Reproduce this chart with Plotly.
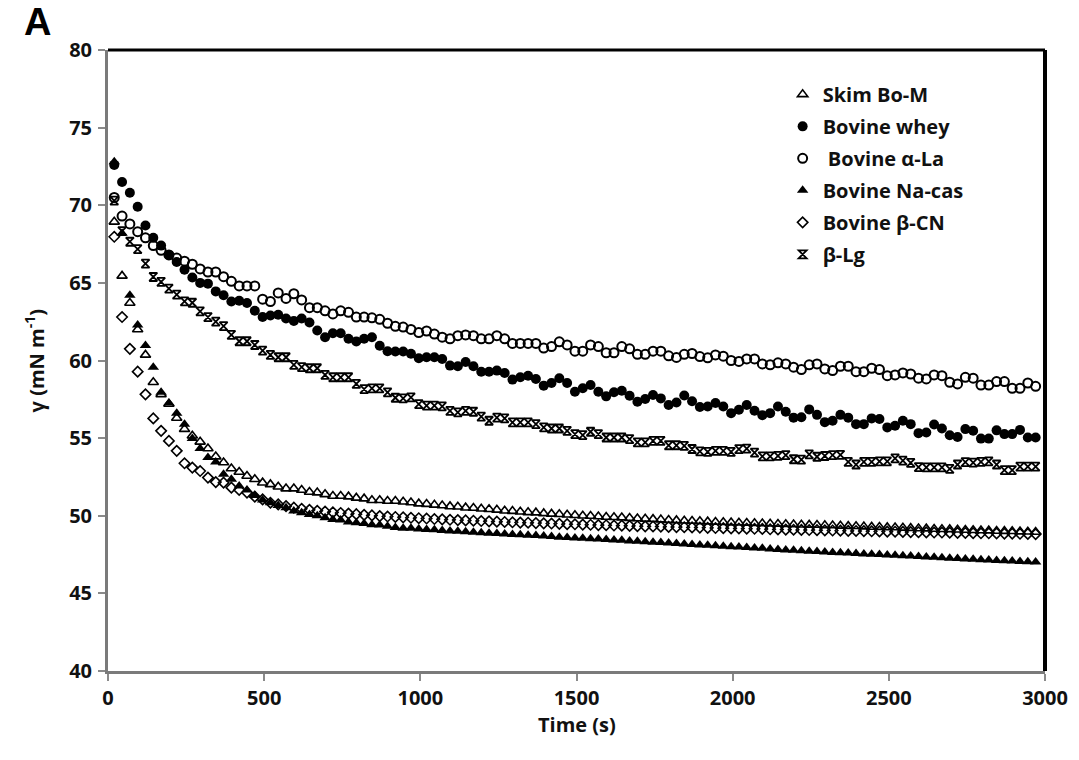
import plotly.graph_objects as go

# Time points (s)
TIME = list(range(20, 2971, 25))

SERIES_NAMES = ["Skim Bo-M", "Bovine whey", " Bovine α-La", "Bovine Na-cas", "Bovine β-CN", "β-Lg"]

skim = [68.93, 65.45, 63.7, 62.0, 60.36, 58.6, 57.82, 57.2, 56.3, 55.58,
        55.15, 54.76, 54.33, 53.81, 53.43, 53.04, 52.82, 52.56, 52.35, 52.13,
        52.02, 51.87, 51.75, 51.75, 51.66, 51.53, 51.49, 51.38, 51.27, 51.27,
        51.23, 51.15, 51.1, 51.0, 51.0, 50.95, 50.95, 50.9, 50.85, 50.78,
        50.75, 50.7, 50.66, 50.6, 50.58, 50.52, 50.5, 50.45, 50.42, 50.38,
        50.32, 50.3, 50.26, 50.22, 50.2, 50.15, 50.12, 50.1, 50.06, 50.03,
        50.0, 49.98, 49.95, 49.92, 49.9, 49.88, 49.85, 49.82, 49.8, 49.78,
        49.75, 49.72, 49.7, 49.68, 49.66, 49.64, 49.62, 49.6, 49.58, 49.56,
        49.55, 49.53, 49.52, 49.5, 49.48, 49.47, 49.45, 49.44, 49.42, 49.41,
        49.4, 49.38, 49.37, 49.35, 49.33, 49.32, 49.3, 49.28, 49.27, 49.25,
        49.24, 49.22, 49.2, 49.18, 49.17, 49.15, 49.13, 49.12, 49.1, 49.08,
        49.07, 49.05, 49.04, 49.02, 49.01, 49.0, 48.98, 48.97, 48.95]

whey = [72.6, 71.5, 70.8, 69.9, 68.7, 67.9, 67.4, 66.8, 66.35, 65.85,
        65.35, 65.0, 64.95, 64.45, 64.2, 63.8, 63.85, 63.7, 63.2, 62.8,
        62.9, 62.95, 62.7, 62.55, 62.7, 62.45, 61.93, 61.5, 61.75, 61.75,
        61.4, 61.23, 61.4, 61.5, 60.95, 60.6, 60.58, 60.58, 60.43, 60.15,
        60.21, 60.21, 60.1, 59.67, 59.63, 59.9, 59.63, 59.28, 59.28, 59.35,
        59.2, 58.77, 58.92, 59.02, 58.81, 58.38, 58.55, 58.86, 58.55, 57.99,
        58.21, 58.42, 57.99, 57.69, 57.95, 58.05, 57.73, 57.34, 57.52, 57.78,
        57.56, 57.13, 57.3, 57.75, 57.38, 57.0, 57.04, 57.26, 57.04, 56.61,
        56.83, 57.13, 56.76, 56.48, 56.61, 57.04, 56.7, 56.32, 56.35, 56.85,
        56.5, 56.03, 56.12, 56.5, 56.32, 55.9, 55.9, 56.27, 56.23, 55.69,
        55.8, 56.12, 55.9, 55.32, 55.36, 55.88, 55.62, 55.19, 55.07, 55.58,
        55.47, 54.97, 54.97, 55.5, 55.26, 55.26, 55.53, 55.04, 55.04]

alpha_la = [70.5, 69.3, 68.8, 68.3, 67.9, 67.4, 67.1, 66.8, 66.6, 66.4,
            66.2, 65.9, 65.7, 65.7, 65.4, 65.1, 64.8, 64.8, 64.8, 63.95,
            63.8, 64.35, 64.0, 64.3, 63.9, 63.4, 63.4, 63.2, 63.0, 63.2,
            63.1, 62.8, 62.8, 62.75, 62.65, 62.4, 62.2, 62.15, 62.0, 61.8,
            61.9, 61.7, 61.5, 61.4, 61.6, 61.65, 61.6, 61.4, 61.4, 61.6,
            61.4, 61.1, 61.1, 61.1, 61.1, 60.8, 60.9, 61.2, 61.0, 60.6,
            60.6, 61.0, 60.9, 60.5, 60.5, 60.9, 60.75, 60.4, 60.4, 60.6,
            60.6, 60.3, 60.2, 60.4, 60.45, 60.25, 60.17, 60.36, 60.28, 60.0,
            59.94, 60.1, 60.1, 59.78, 59.72, 59.85, 59.78, 59.57, 59.42, 59.72,
            59.78, 59.46, 59.35, 59.63, 59.63, 59.28, 59.28, 59.5, 59.42, 59.02,
            59.07, 59.2, 59.13, 58.86, 58.81, 59.07, 59.02, 58.6, 58.49, 58.92,
            58.86, 58.42, 58.42, 58.64, 58.64, 58.21, 58.21, 58.55, 58.34]

na_cas = [72.8, 68.2, 64.2, 62.28, 60.97, 59.57, 57.95, 57.26, 56.61, 55.9,
          54.97, 54.33, 53.75, 53.47, 52.67, 52.35, 51.91, 51.66, 51.31, 51.02,
          50.84, 50.66, 50.51, 50.3, 50.2, 50.08, 50.0, 49.87, 49.76, 49.72,
          49.6, 49.55, 49.5, 49.42, 49.4, 49.33, 49.25, 49.2, 49.2, 49.15,
          49.12, 49.1, 49.05, 49.02, 49.0, 48.97, 48.93, 48.9, 48.87, 48.85,
          48.83, 48.8, 48.77, 48.74, 48.72, 48.7, 48.66, 48.62, 48.6, 48.57,
          48.55, 48.52, 48.5, 48.47, 48.44, 48.42, 48.38, 48.35, 48.33, 48.3,
          48.27, 48.25, 48.22, 48.18, 48.15, 48.12, 48.1, 48.07, 48.04, 48.0,
          47.98, 47.95, 47.92, 47.9, 47.86, 47.83, 47.8, 47.77, 47.74, 47.72,
          47.7, 47.67, 47.64, 47.62, 47.6, 47.57, 47.54, 47.52, 47.5, 47.47,
          47.45, 47.42, 47.4, 47.37, 47.35, 47.32, 47.3, 47.27, 47.25, 47.22,
          47.2, 47.17, 47.15, 47.12, 47.1, 47.08, 47.06, 47.04, 47.02]

beta_cn = [67.97, 62.8, 60.75, 59.28, 57.82, 56.27, 55.47, 54.82, 54.18, 53.38,
           53.1, 52.88, 52.46, 52.17, 52.13, 51.81, 51.66, 51.49, 51.23, 51.05,
           50.84, 50.73, 50.62, 50.52, 50.45, 50.38, 50.32, 50.27, 50.22, 50.18,
           50.14, 50.1, 50.06, 50.02, 49.98, 49.95, 49.92, 49.9, 49.87, 49.84,
           49.82, 49.79, 49.77, 49.74, 49.72, 49.7, 49.68, 49.66, 49.64, 49.62,
           49.6, 49.58, 49.56, 49.55, 49.53, 49.51, 49.5, 49.48, 49.46, 49.45,
           49.43, 49.42, 49.4, 49.39, 49.37, 49.36, 49.35, 49.33, 49.32, 49.31,
           49.3, 49.28, 49.27, 49.26, 49.25, 49.24, 49.22, 49.21, 49.2, 49.19,
           49.18, 49.17, 49.16, 49.15, 49.13, 49.12, 49.11, 49.1, 49.09, 49.08,
           49.07, 49.06, 49.05, 49.04, 49.03, 49.02, 49.01, 49.0, 48.99, 48.98,
           48.97, 48.96, 48.95, 48.94, 48.93, 48.92, 48.92, 48.91, 48.9, 48.89,
           48.88, 48.87, 48.87, 48.86, 48.85, 48.85, 48.84, 48.83, 48.82]

beta_lg = [70.3, 68.33, 67.65, 67.17, 66.24, 65.38, 65.06, 64.63, 64.24, 63.81,
           63.72, 63.16, 62.8, 62.51, 62.21, 61.65, 61.24, 61.24, 61.0, 60.64,
           60.36, 60.21, 60.21, 59.72, 59.57, 59.5, 59.5, 59.07, 58.92, 58.92,
           58.92, 58.49, 58.16, 58.21, 58.21, 57.95, 57.6, 57.56, 57.62, 57.19,
           57.09, 57.09, 57.04, 56.76, 56.66, 56.76, 56.7, 56.39, 56.12, 56.32,
           56.27, 56.01, 56.01, 56.01, 55.9, 55.69, 55.62, 55.62, 55.47, 55.26,
           55.19, 55.41, 55.26, 55.04, 55.04, 55.04, 54.93, 54.72, 54.72, 54.82,
           54.82, 54.54, 54.54, 54.5, 54.3, 54.15, 54.11, 54.18, 54.18, 54.11,
           54.29, 54.33, 54.07, 53.82, 53.82, 53.86, 53.9, 53.64, 53.62, 53.95,
           53.8, 53.85, 53.9, 53.92, 53.47, 53.3, 53.47, 53.47, 53.5, 53.5,
           53.7, 53.55, 53.4, 53.13, 53.11, 53.11, 53.11, 53.02, 53.3, 53.45,
           53.42, 53.47, 53.5, 53.3, 52.94, 52.94, 53.16, 53.16, 53.16]

X_TICKS = [0, 500, 1000, 1500, 2000, 2500, 3000]
Y_TICKS = [40, 45, 50, 55, 60, 65, 70, 75, 80]

series = [skim, whey, alpha_la, na_cas, beta_cn, beta_lg]
symbols = ["triangle-up-open", "circle", "circle-open", "triangle-up", "diamond-open", "hourglass-open"]
sizes = [9, 10, 9, 10, 8, 8]
lws = [1.6, 0, 2, 0, 1.6, 1.8]

FONT = "'Open Sans', Lato, sans-serif"

fig = go.Figure()
for i, (name, ys) in enumerate(zip(SERIES_NAMES, series)):
    fig.add_trace(go.Scatter(
        x=TIME, y=ys, name=name, mode="markers", legendgroup=f"g{i}",
        marker=dict(symbol=symbols[i], size=sizes[i], color="black",
                    line=dict(color="black", width=lws[i])),
    ))

axis_common = dict(
    showgrid=False, zeroline=False, showline=True, linecolor="#7a7a7a", linewidth=3,
    ticks="outside", ticklen=7, tickwidth=2, tickcolor="#8a8a8a", mirror=False,
    tickfont=dict(family=FONT, size=20, color="#111", weight="bold"),
)

fig.update_layout(
    width=1079, height=760,
    margin=dict(l=108, r=34, t=50, b=89),
    paper_bgcolor="white", plot_bgcolor="white",
    font=dict(family=FONT, color="#111"),
    xaxis=dict(range=[0, 3000], tickvals=X_TICKS, ticklabelstandoff=0, **axis_common),
    yaxis=dict(range=[40, 80], tickvals=Y_TICKS, ticklabelstandoff=2, **axis_common),
    legend=dict(x=0.72, y=0.96, xanchor="left", yanchor="top", bgcolor="rgba(0,0,0,0)",
                font=dict(family=FONT, size=20, weight="bold", color="#111"),
                tracegroupgap=3, itemwidth=30),
    showlegend=True,
)

# black frame on top/right
fig.add_shape(type="line", xref="paper", yref="paper", x0=0, x1=1, y0=1, y1=1,
              line=dict(color="black", width=3))
fig.add_shape(type="line", xref="paper", yref="paper", x0=1, x1=1, y0=0, y1=1,
              line=dict(color="black", width=4))

# axis titles
fig.add_annotation(text="<b>Time (s)</b>", xref="paper", yref="paper", x=0.5, y=-0.086,
                   xanchor="center", yanchor="middle", showarrow=False,
                   font=dict(family=FONT, size=20, color="#111"))
fig.add_annotation(text="<b>γ (mN m<sup>-1</sup>)</b>", xref="paper", yref="paper", x=-0.078, y=0.5,
                   xanchor="center", yanchor="middle", showarrow=False, textangle=-90,
                   font=dict(family=FONT, size=20, color="#111"))

fig.add_annotation(text="<b>A</b>", xref="paper", yref="paper", x=-0.092, y=1.045,
                   xanchor="left", yanchor="middle", showarrow=False,
                   font=dict(family="Liberation Sans, Arial, sans-serif", size=38, color="black"))

fig.write_html("out.html")
